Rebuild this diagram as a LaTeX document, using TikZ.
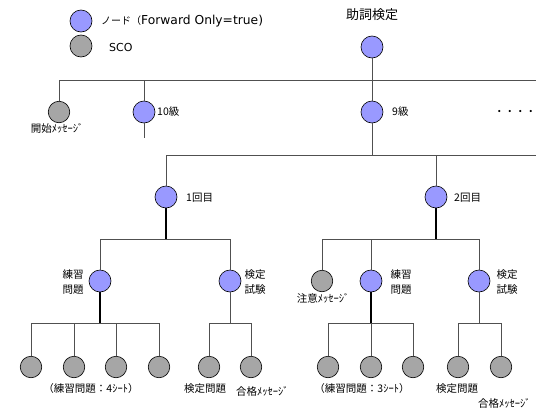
\documentclass[tikz,border=0pt]{standalone}
\usepackage{fontspec}
\setmainfont{Liberation Sans}
\newfontfamily\jp{Noto Sans CJK JP}
\newfontfamily\wide{DejaVu Sans}
\definecolor{nodeblue}{HTML}{9999FF}
\definecolor{scogray}{HTML}{A6A6A6}
\definecolor{linegray}{HTML}{505050}
\begin{document}
\begin{tikzpicture}[x=1pt,y=-1pt,
  nd/.style={circle, draw=black, line width=0.6pt, fill=nodeblue, minimum size=22pt, inner sep=0pt},
  sco/.style={nd, fill=scogray, minimum size=21.5pt},
  conn/.style={draw=linegray, line width=0.8pt},
  heavy/.style={draw=black, line width=1.2pt},
  lbl/.style={font=\jp\fontsize{10.5}{15}\selectfont, inner sep=0pt, align=center},
  lat/.style={font=\wide\fontsize{11}{13}\selectfont, inner sep=0pt}]
\clip (0,0) rectangle (536,410);
% legend
\node[nd] (lgnode) at (81,21) {};
\node[sco, minimum size=22pt] (lgsco) at (81,46) {};
\node[anchor=west, inner sep=0pt] (lgnodetxt) at (101,21) {{\jp\fontsize{10}{12}\selectfont ノード（}{\wide\fontsize{12.3}{14}\selectfont Forward Only=true)}};
\node[lat, anchor=west] (lgscotxt) at (109,47) {SCO};
% root
\node[font=\jp\fontsize{13}{15}\selectfont, inner sep=0pt] (roottxt) at (372,15) {助詞検定};
\node[nd] (root) at (372,47) {};
% level 1
\node[sco] (start) at (59,112) {};
\node[nd] (k10) at (144,112) {};
\node[nd] (k9) at (372,112) {};
\node[lbl] (starttxt) at (57,128) {開始ﾒｯｾｰｼﾞ};
\node[lbl, anchor=west] (k10txt) at (157,112) {10級};
\node[lbl, anchor=west] (k9txt) at (392,112) {9級};
\node[lbl, anchor=west] (dots) at (494,113) {・・・・};
% level 2
\node[nd] (r1) at (166,197) {};
\node[nd] (r2) at (436,197) {};
\node[lbl, anchor=west] (r1txt) at (186,198) {1回目};
\node[lbl, anchor=west] (r2txt) at (454,198) {2回目};
% level 3
\node[nd] (p1) at (100,281) {};
\node[nd] (t1) at (230,281) {};
\node[sco] (c2) at (322,281) {};
\node[nd] (p2) at (371,281) {};
\node[nd] (t2) at (479,281) {};
\node[lbl] (p1txt) at (73,282) {練習\\問題};
\node[lbl] (t1txt) at (255,282) {検定\\試験};
\node[lbl] (c2txt) at (323,298) {注意ﾒｯｾｰｼﾞ};
\node[lbl] (p2txt) at (401,282) {練習\\問題};
\node[lbl] (t2txt) at (507,282) {検定\\試験};
% leaves
\node[sco] (l1a) at (31,367) {};
\node[sco] (l1b) at (74,367) {};
\node[sco] (l1c) at (116,367) {};
\node[sco] (l1d) at (159,367) {};
\node[sco] (q1a) at (209,367) {};
\node[sco] (q1b) at (251,367) {};
\node[sco] (l2a) at (328,367) {};
\node[sco] (l2b) at (371,367) {};
\node[sco] (l2c) at (413,367) {};
\node[sco] (q2a) at (458,367) {};
\node[sco] (q2b) at (501,367) {};
\node[lbl] (l1txt) at (91,389) {（練習問題：4ｼｰﾄ）};
\node[lbl] (q1atxt) at (205,389) {検定問題};
\node[lbl, anchor=west] (q1btxt) at (236,391) {合格ﾒｯｾｰｼﾞ};
\node[lbl] (l2txt) at (362,389) {（練習問題：3ｼｰﾄ）};
\node[lbl] (q2atxt) at (457,389) {検定問題};
\node[lbl, anchor=west] (q2btxt) at (478,403) {合格ﾒｯｾｰｼﾞ};
% bus coordinates
\coordinate (bus0) at (536,80);
\coordinate (bus1) at (536,155);
\coordinate (bus2) at (0,239);
\coordinate (bus3) at (0,323);
\coordinate (k10end) at (144,138);
% connectors
\draw[conn] (root) -- (k9);
\draw[conn] (start) |- (bus0);
\draw[conn] (k10) -- (k10 |- bus0);
\draw[conn] (k10) -- (k10end);
\draw[conn] (r1) |- (bus1);
\draw[conn] (k9) -- (k9 |- bus1);
\draw[conn] (r2) -- (r2 |- bus1);
% 1回目
\draw[conn] (p1) -- (p1 |- bus2) -- (t1 |- bus2) -- (t1);
\draw[heavy] (r1) -- (r1 |- bus2);
% 2回目
\draw[conn] (c2) -- (c2 |- bus2) -- (t2 |- bus2) -- (t2);
\draw[conn] (p2) -- (p2 |- bus2);
\draw[heavy] (r2) -- (r2 |- bus2);
% leaves of p1
\draw[conn] (l1a) -- (l1a |- bus3) -- (l1d |- bus3) -- (l1d);
\draw[conn] (l1b) -- (l1b |- bus3);
\draw[conn] (l1c) -- (l1c |- bus3);
\draw[heavy] (p1) -- (p1 |- bus3);
% leaves of t1
\draw[conn] (q1a) -- (q1a |- bus3) -- (q1b |- bus3) -- (q1b);
\draw[conn] (t1) -- (t1 |- bus3);
% leaves of p2
\draw[conn] (l2a) -- (l2a |- bus3) -- (l2c |- bus3) -- (l2c);
\draw[conn] (l2b) -- (l2b |- bus3);
\draw[heavy] (p2) -- (p2 |- bus3);
% leaves of t2
\draw[conn] (q2a) -- (q2a |- bus3) -- (q2b |- bus3) -- (q2b);
\draw[conn] (t2) -- (t2 |- bus3);
\end{tikzpicture}
\end{document}
